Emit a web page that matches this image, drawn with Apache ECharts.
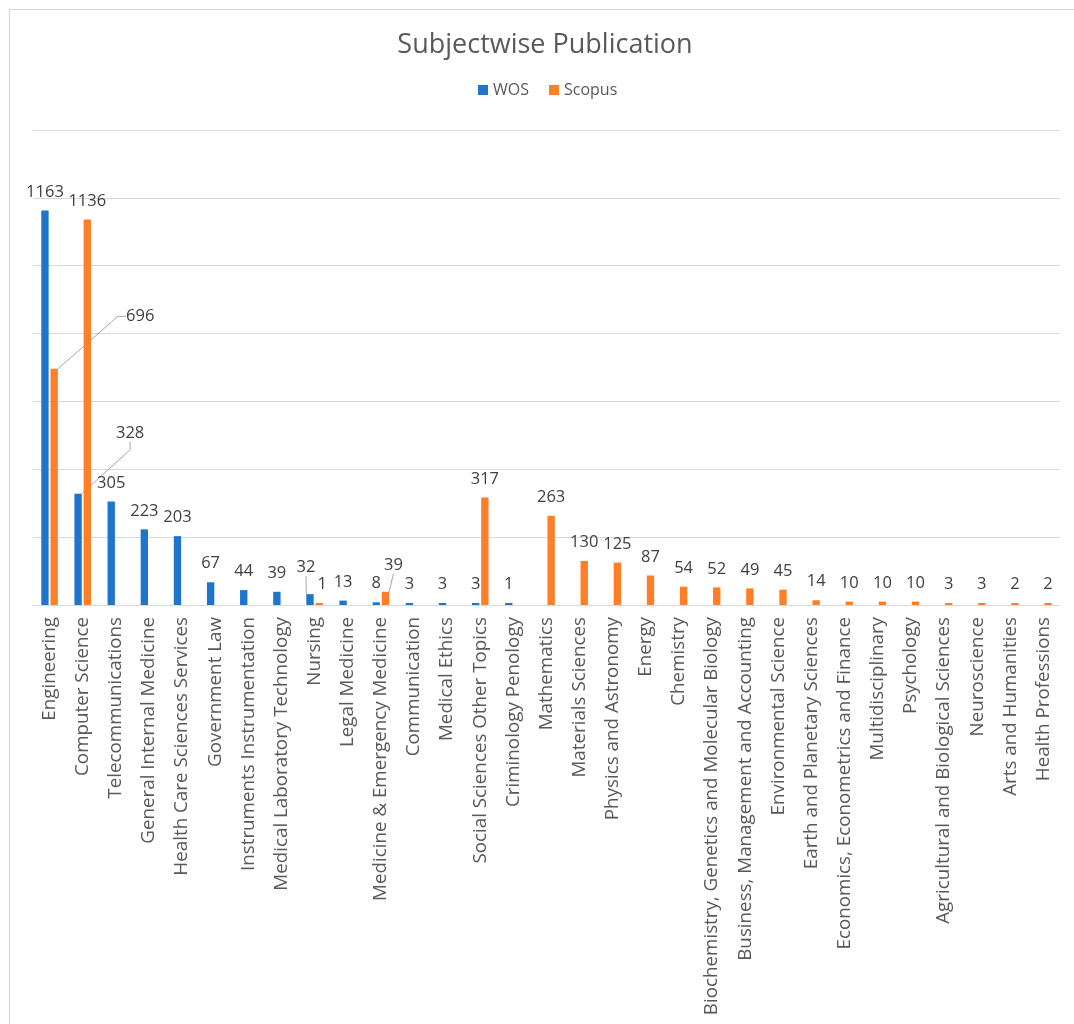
<!DOCTYPE html>
<html>
<head>
<meta charset="utf-8">
<title>Subjectwise Publication</title>
<script src="https://cdn.jsdelivr.net/npm/echarts@6/dist/echarts.min.js"></script>
<style>
  html, body { margin: 0; padding: 0; background: #ffffff; }
  #chart { width: 1074px; height: 1024px; }
</style>
</head>
<body>
<div id="chart"></div>
<script>
// Subject areas, in display order
const categories = [
  'Engineering', 'Computer Science', 'Telecommunications', 'General Internal Medicine',
  'Health Care Sciences Services', 'Government Law', 'Instruments Instrumentation',
  'Medical Laboratory Technology', 'Nursing', 'Legal Medicine', 'Medicine & Emergency Medicine',
  'Communication', 'Medical Ethics', 'Social Sciences Other Topics', 'Criminology Penology',
  'Mathematics', 'Materials Sciences', 'Physics and Astronomy', 'Energy', 'Chemistry',
  'Biochemistry, Genetics and Molecular Biology', 'Business, Management and Accounting',
  'Environmental Science', 'Earth and Planetary Sciences', 'Economics, Econometrics and Finance',
  'Multidisciplinary', 'Psychology', 'Agricultural and Biological Sciences', 'Neuroscience',
  'Arts and Humanities', 'Health Professions'
];

// Publication counts per source (null = not indexed there)
const wosValues = [
  1163, 328, 305, 223, 203, 67, 44, 39, 32, 13, 8, 3, 3, 3, 1,
  null, null, null, null, null, null, null, null, null, null, null, null, null, null, null, null
];
const scopusValues = [
  696, 1136, null, null, null, null, null, null, 1, null, 39, null, null, 317, null,
  263, 130, 125, 87, 54, 52, 49, 45, 14, 10, 10, 10, 3, 3, 2, 2
];

// Value axis ticks
const yMin = 0;
const yMax = 1400;
const yStep = 200;

// Labels pulled away from crowded bars: shift [dx, dy] and guide-line settings
const labelShift = {
  WOS:    { 1: { d: [52, -42], line: true, len: 8 }, 8: { d: [-4, -8], line: true, len: 0 } },
  Scopus: { 0: { d: [86, -34], line: true, len: 8 }, 8: { d: [3, 0], line: false }, 10: { d: [8, -8], line: true, len: 0 } }
};
const seriesNames = ['WOS', 'Scopus'];

const FONT = '"Open Sans", "Noto Sans", sans-serif';
const COLORS = { WOS: '#1f75cb', Scopus: '#fe7f28' };

function buildData(name, values) {
  const shifts = labelShift[name] || {};
  return values.map(function (v, i) {
    if (v == null) return null;
    const s = shifts[i];
    const item = { value: v };
    if (s && s.line) {
      item.labelLine = {
        show: true,
        length2: s.len,
        lineStyle: { color: '#a6a6a6', width: 1 }
      };
    }
    return item;
  });
}

function shiftLabel(params) {
  const name = seriesNames[params.seriesIndex];
  const s = (labelShift[name] || {})[params.dataIndex];
  if (!s) return {};
  return { dx: s.d[0], dy: s.d[1] };
}

function makeSeries(name, values) {
  return {
    name: name,
    type: 'bar',
    data: buildData(name, values),
    barCategoryGap: '50%',
    barGap: '25%',
    barMinHeight: 2,
    itemStyle: { color: COLORS[name] },
    label: {
      show: true,
      position: 'top',
      distance: 10,
      color: '#404040',
      fontFamily: FONT,
      fontSize: 16.5
    },
    labelLayout: shiftLabel,
    emphasis: { disabled: true },
    animation: false
  };
}

const chart = echarts.init(document.getElementById('chart'), null, { renderer: 'canvas' });

chart.setOption({
  backgroundColor: '#ffffff',
  animation: false,
  title: {
    text: 'Subjectwise Publication',
    left: 540,
    textAlign: 'center',
    top: 27,
    textStyle: { color: '#595959', fontFamily: FONT, fontSize: 27, fontWeight: 'normal' }
  },
  legend: {
    data: seriesNames,
    left: 473,
    top: 77,
    icon: 'rect',
    itemWidth: 10,
    itemHeight: 10,
    itemGap: 20,
    textStyle: { color: '#595959', fontFamily: FONT, fontSize: 16 }
  },
  graphic: [{
    type: 'rect',
    silent: true,
    z: -10,
    shape: { x: 9.5, y: 9.5, width: 1200, height: 1200 },
    style: { fill: 'none', stroke: '#d9d9d9', lineWidth: 1.2 }
  }],
  grid: { left: 33, right: 14, top: 130, bottom: 419, containLabel: false },
  xAxis: {
    type: 'category',
    data: categories,
    axisLine: { show: true, lineStyle: { color: '#d9d9d9', width: 1 } },
    axisTick: { show: false },
    axisLabel: {
      interval: 0,
      rotate: 90,
      margin: 12,
      color: '#595959',
      fontFamily: FONT,
      fontSize: 18.8
    }
  },
  yAxis: {
    type: 'value',
    min: yMin,
    max: yMax,
    interval: yStep,
    axisLine: { show: false },
    axisTick: { show: false },
    axisLabel: { show: false },
    splitLine: { show: true, lineStyle: { color: '#d9d9d9', width: 1 } }
  },
  series: [makeSeries('WOS', wosValues), makeSeries('Scopus', scopusValues)]
});
</script>
</body>
</html>
